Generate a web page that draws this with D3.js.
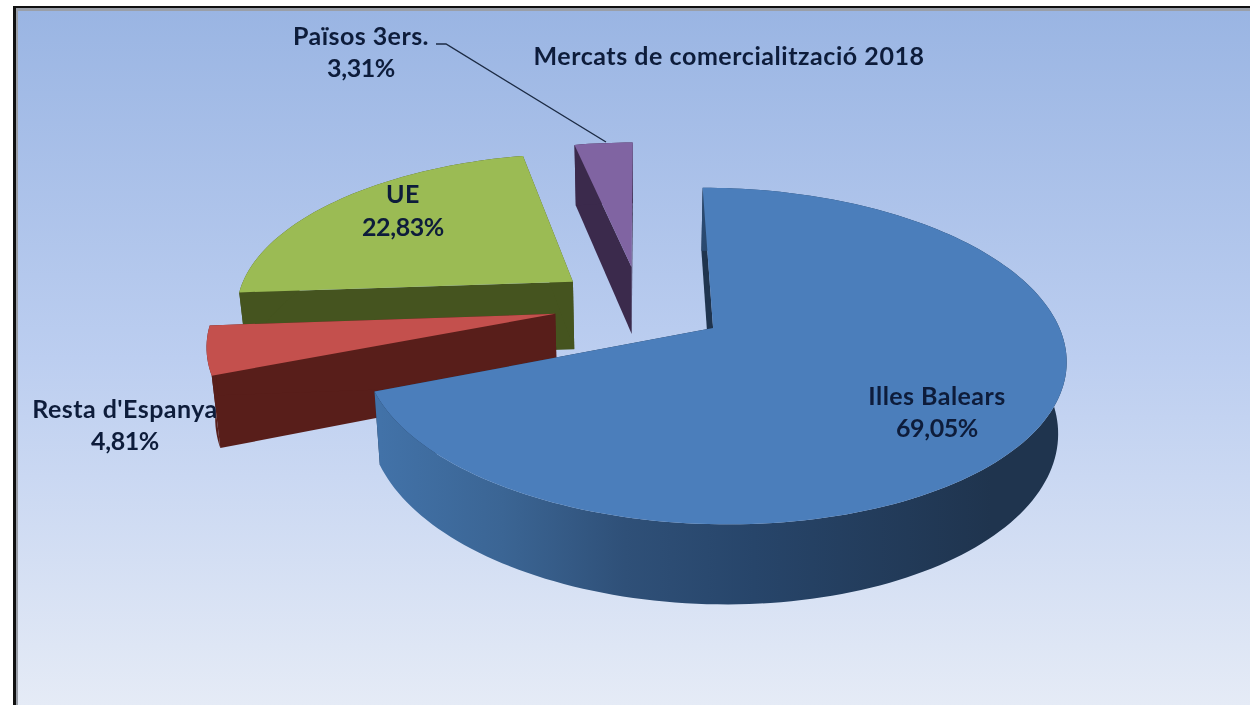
<!DOCTYPE html>
<html><head><meta charset="utf-8">
<script src="https://cdn.jsdelivr.net/npm/d3@7"></script>
<style>html,body{margin:0;padding:0;background:#fff;overflow:hidden}svg{display:block}</style>
</head><body><svg id="c" width="1250" height="705"></svg>
<script>
// ---- data ----
const categories = ["Illes Balears", "Resta d'Espanya", "UE", "Països 3ers."];
const shares = [69.05, 4.81, 22.83, 3.31];
const topColors = ["#4b7ebb", "#c4504d", "#9bbb54", "#8064a2"];
const wallColors = ["#1f344e", "#581e1a", "#45541f", "#3b2a4c"];
const chartTitle = "Mercats de comercialització 2018";

// ---- view / perspective model ----
const W = 1250, H = 705;
const svg = d3.select("#c");
const x0 = 640, y0 = 327, bx = 346, ay = 163.3, persp = 0.1667;
const centre = [0.0004, 0.1378], explode = 0.255;
const wallConverge = 0.98, wallBase = 20, wallScale = 50;
const sx = d3.scaleLinear().domain([0, 1]).range([x0, x0 + bx]);
const sy = d3.scaleLinear().domain([0, 1]).range([y0, y0 - ay]);

function top3d(U, V) {
  const s = 1 / (1 + persp * V);
  return { x: sx(U * s), y: sy(V * s), s };
}
function low3d(U, V) {
  const p = top3d(U, V);
  return { x: x0 + (p.x - x0) * wallConverge, y: p.y + wallBase + wallScale * p.s };
}
const line = d3.line().x(d => d.x).y(d => d.y).curve(d3.curveLinear);
const fmt = d3.formatLocale({ decimal: ",", thousands: ".", grouping: [3], currency: ["", "€"] }).format(".2f");

const pie = d3.pie().sort(null).startAngle(0).endAngle(2 * Math.PI);
const arcs = pie(shares).map((d, i) => {
  const mid = (d.startAngle + d.endAngle) / 2;
  const apex = [centre[0] + explode * Math.sin(mid), centre[1] + explode * Math.cos(mid)];
  return { ...d, i, apex };
});
const colorTop = d3.scaleOrdinal().domain(categories).range(topColors);
const colorWall = d3.scaleOrdinal().domain(categories).range(wallColors);

// ---- defs ----
const defs = svg.append("defs");
const bg = defs.append("linearGradient").attr("id", "bg").attr("x1", 0).attr("y1", 0).attr("x2", 0).attr("y2", 1);
[[0, "#9ab5e3"], [0.5, "#bccef0"], [1, "#e5ebf6"]].forEach(s => bg.append("stop").attr("offset", s[0]).attr("stop-color", s[1]));
const wg = defs.append("linearGradient").attr("id", "blueWall").attr("gradientUnits", "userSpaceOnUse")
  .attr("x1", 380).attr("y1", 0).attr("x2", 1060).attr("y2", 0);
[[0, "#4272a8"], [0.18, "#3b6594"], [0.36, "#2f5078"], [0.55, "#27456a"], [0.9, "#1f344e"], [1, "#1f344e"]]
  .forEach(s => wg.append("stop").attr("offset", s[0]).attr("stop-color", s[1]));
defs.append("filter").attr("id", "soft").append("feGaussianBlur").attr("stdDeviation", 0.45);

// ---- frame ----
svg.append("rect").attr("width", W).attr("height", H).attr("fill", "#fff");
svg.append("rect").attr("x", 13).attr("y", 6).attr("width", W - 13).attr("height", H - 6).attr("fill", "#111");
svg.append("rect").attr("x", 16).attr("y", 8).attr("width", W - 16).attr("height", H - 8).attr("fill", "#9a9fa8");
svg.append("rect").attr("x", 18).attr("y", 11).attr("width", W - 18).attr("height", H - 11).attr("fill", "url(#bg)");

// ---- slices, far to near ----
const order = arcs.slice().sort((a, b) => b.apex[1] - a.apex[1]);
const gSlices = svg.append("g");
order.forEach(d => {
  const name = categories[d.i];
  const n = Math.max(8, Math.round((d.endAngle - d.startAngle) / (Math.PI / 120)));
  const angs = d3.range(n + 1).map(k => d.startAngle + (d.endAngle - d.startAngle) * k / n);
  const rim = angs.map(t => [d.apex[0] + Math.sin(t), d.apex[1] + Math.cos(t)]);
  const g = gSlices.append("g").attr("class", "slice");
  const wallFill = colorWall(name);
  const a = d.apex;
  [rim[0], rim[n]].forEach(e => {
    g.append("path").attr("fill", wallFill).attr("d", line([
      top3d(a[0], a[1]), top3d(e[0], e[1]), low3d(e[0], e[1]), low3d(a[0], a[1])]) + "Z");
  });
  g.append("path").attr("fill", d.i === 0 ? "url(#blueWall)" : wallFill)
    .attr("d", line(rim.map(e => top3d(e[0], e[1])).concat(rim.slice().reverse().map(e => low3d(e[0], e[1])))) + "Z");
  g.append("path").attr("fill", colorTop(name))
    .attr("d", line([top3d(a[0], a[1])].concat(rim.map(e => top3d(e[0], e[1])))) + "Z");
});

// ---- leader line ----
svg.append("path").attr("fill", "none").attr("stroke", "#1c2b44").attr("stroke-width", 1.4)
  .attr("d", d3.line()([[436, 44], [446, 44], [606, 142]]));

// ---- text ----
const font = "Lato, 'Open Sans', sans-serif";
const txt = svg.append("g").attr("filter", "url(#soft)").attr("font-family", font)
  .attr("font-weight", 700).attr("fill", "#0f1d3a").attr("text-anchor", "middle").attr("font-size", 25);
const labelLayout = [
  { x: 937, y1: 405, y2: 437 },
  { x: 125, y1: 418, y2: 450 },
  { x: 403, y1: 203, y2: 236 },
  { x: 361, y1: 45, y2: 77 }
];
arcs.forEach(d => {
  const p = labelLayout[d.i];
  txt.append("text").attr("x", p.x).attr("y", p.y1).attr("letter-spacing", 0.45).text(categories[d.i]);
  txt.append("text").attr("x", p.x).attr("y", p.y2).attr("letter-spacing", -0.4).text(fmt(d.data) + "%");
});
txt.append("text").attr("x", 729).attr("y", 65).attr("letter-spacing", 0.55).text(chartTitle);
</script></body></html>
